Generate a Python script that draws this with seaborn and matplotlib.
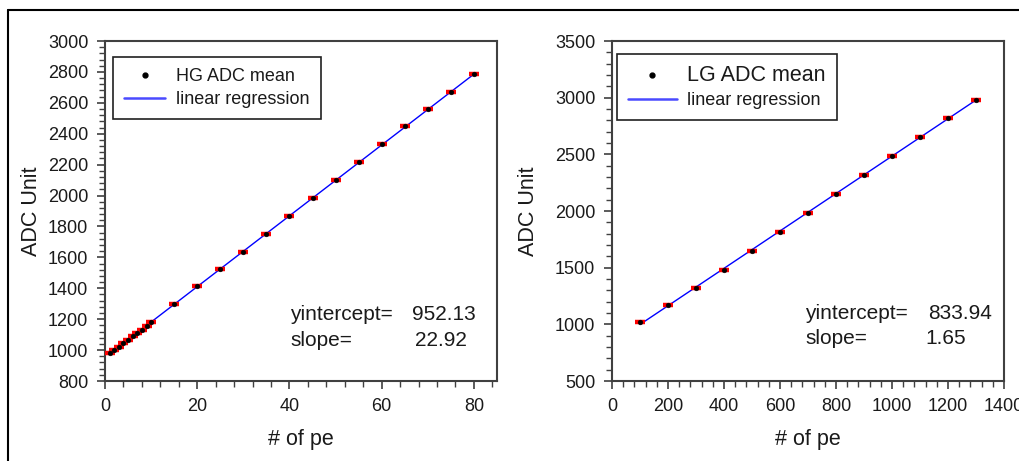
import numpy as np
import pandas as pd
import matplotlib
matplotlib.use("Agg")
import matplotlib.pyplot as plt
from matplotlib.lines import Line2D
from matplotlib.ticker import MultipleLocator
import seaborn as sns

# ---------------- data ----------------
hg_pe = [1, 2, 3, 4, 5, 6, 7, 8, 9, 10, 15, 20, 25, 30, 35, 40, 45, 50, 55, 60, 65, 70, 75, 80]
hg_adc = [981, 1000, 1019, 1043, 1063, 1088, 1110, 1133, 1157, 1180, 1297, 1412, 1522, 1637,
          1753, 1870, 1984, 2101, 2217, 2331, 2447, 2562, 2673, 2787]
hg_intercept = 952.13
hg_slope = 22.92

lg_pe = [100, 200, 300, 400, 500, 600, 700, 800, 900, 1000, 1100, 1200, 1300]
lg_adc = [1021, 1170, 1325, 1483, 1650, 1815, 1985, 2150, 2318, 2485, 2650, 2820, 2980]
lg_intercept = 833.94
lg_slope = 1.65

hg_yticks = [800, 1000, 1200, 1400, 1600, 1800, 2000, 2200, 2400, 2600, 2800, 3000]
hg_xticks = [0, 20, 40, 60, 80]
lg_yticks = [500, 1000, 1500, 2000, 2500, 3000, 3500]
lg_xticks = [0, 200, 400, 600, 800, 1000, 1200, 1400]

# ---------------- style ----------------
sns.set_theme(style="white")
plt.rcParams["font.family"] = ["Liberation Sans", "DejaVu Sans"]
TXT = "#1a1a1a"
SPINE = "#404040"

fig = plt.figure(figsize=(10.2, 4.61), dpi=100)
W, H = 1020, 461

def ax_rect(x0, y0, x1, y1):
    return [x0 / W, 1 - y1 / H, (x1 - x0) / W, (y1 - y0) / H]

ax1 = fig.add_axes(ax_rect(105, 41, 497, 381))
ax2 = fig.add_axes(ax_rect(612, 41, 1004, 381))

# outer frame (only top and left visible in the reference)
fig.add_artist(Line2D([8 / W, 8 / W], [-0.1, 1 - 10 / H], color="black", lw=1.5, transform=fig.transFigure))
fig.add_artist(Line2D([8 / W, 1.1], [1 - 10 / H, 1 - 10 / H], color="black", lw=1.5, transform=fig.transFigure))


def draw_panel(ax, xs, ys, b0, b1, label, xlim, ylim, xticks, yticks, xminor, yminor,
               leg_anchor, leg_size, handlelen):
    df = pd.DataFrame({"pe": xs, "adc": ys})
    xl = np.array([min(xs), max(xs)], dtype=float)
    fit = pd.DataFrame({"pe": xl, "adc": b0 + b1 * xl})
    sns.lineplot(data=fit, x="pe", y="adc", ax=ax, color="#0000ff", lw=1.0, zorder=2)
    sns.scatterplot(data=df, x="pe", y="adc", ax=ax, marker="_", s=55, color="#ff0000",
                    linewidth=3.2, zorder=3)
    sns.scatterplot(data=df, x="pe", y="adc", ax=ax, marker="o", s=12, color="black",
                    edgecolor="black", linewidth=0.3, zorder=4)
    ax.set_xlim(*xlim)
    ax.set_ylim(*ylim)
    ax.set_xticks(xticks)
    ax.set_yticks(yticks)
    ax.xaxis.set_minor_locator(MultipleLocator(xminor))
    ax.yaxis.set_minor_locator(MultipleLocator(yminor))
    ax.tick_params(which="major", direction="out", length=6, width=1.2, color=SPINE,
                   labelsize=13, labelcolor=TXT, bottom=True, left=True, top=False, right=False,
                   pad=6)
    ax.tick_params(which="minor", direction="out", length=4, width=1.0, color=SPINE,
                   bottom=True, left=True, top=False, right=False)
    for sp in ax.spines.values():
        sp.set_color(SPINE)
        sp.set_linewidth(1.5)
        sp.set_visible(True)
    ax.set_xlabel("# of pe", fontsize=15.5, color=TXT)
    ax.set_ylabel("ADC Unit", fontsize=15.5, color=TXT)
    handles = [Line2D([], [], marker="o", color="black", ms=3.5, ls="none"),
               Line2D([], [], color="#4a4aff", lw=1.8)]
    leg = ax.legend(handles, [label, "linear regression"], loc="upper left",
                    bbox_to_anchor=leg_anchor, frameon=True, fancybox=False,
                    edgecolor="#202020", framealpha=1, fontsize=13, handlelength=handlelen,
                    handletextpad=0.6, borderpad=0.6, labelspacing=0.35, borderaxespad=0)
    leg.get_frame().set_linewidth(1.2)
    texts = leg.get_texts()
    texts[0].set_fontsize(leg_size)
    for t in texts:
        t.set_color(TXT)
    return ax


draw_panel(ax1, hg_pe, hg_adc, hg_intercept, hg_slope, "HG ADC mean", (0, 85), (800, 3000),
           hg_xticks, hg_yticks, 4, 40, (8 / 392, 1 - 16 / 340), 13, 2.3)
draw_panel(ax2, lg_pe, lg_adc, lg_intercept, lg_slope, "LG ADC mean", (0, 1400), (500, 3500),
           lg_xticks, lg_yticks, 40, 100, (5 / 392, 1 - 13 / 340), 15.5, 2.7)

ax1.yaxis.set_label_coords((42 - 105) / 392, 0.5)
ax2.yaxis.set_label_coords((539 - 612) / 392, 0.5)
ax1.xaxis.set_label_coords(0.5, (381 - 429) / 340)
ax2.xaxis.set_label_coords(0.5, (381 - 429) / 340)

# annotations
def ftext(x, y, s):
    fig.text(x / W, 1 - y / H, s, fontsize=15, color=TXT, ha="left", va="center")

ftext(290, 315, "yintercept=")
ftext(412, 315, f"{hg_intercept:.2f}")
ftext(290, 340, "slope=")
ftext(415, 340, f"{hg_slope:.2f}")

ftext(805, 313, "yintercept=")
ftext(928, 313, f"{lg_intercept:.2f}")
ftext(805, 338, "slope=")
ftext(925, 338, f"{lg_slope:.2f}")

fig.savefig("out.png", dpi=100, facecolor="white")
